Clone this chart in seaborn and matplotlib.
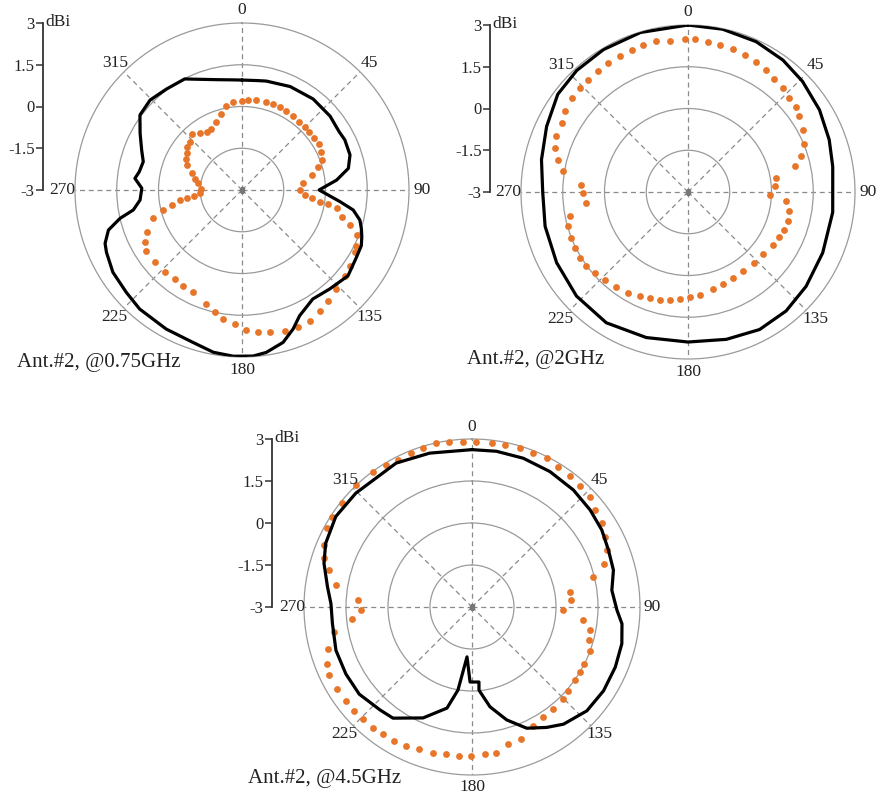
import numpy as np
import matplotlib
matplotlib.use("Agg")
import matplotlib.pyplot as plt
import seaborn as sns

# Ant.#2 radiation patterns, gain in dBi vs azimuth in degrees
# black = solid trace, orange = dotted trace

# 0.75 GHz
ang1_k = [0, 8, 12.6, 25, 38, 50, 59, 64, 72, 78.5, 84, 90, 92.3, 96.8, 100.2, 104.3, 108, 111.3, 115, 120.5,
          129, 138.5, 147, 155.4, 159.8, 164.9, 171.5, 176.2, 183, 190, 198, 208.6, 220.7, 228.5, 237.5, 245.3,
          248.7, 253.3, 256.9, 259.6, 264.4, 271, 276.2, 280, 286, 291.7, 299.1, 306.3, 314.4, 323.2, 332.7,
          339, 346.9, 355.3]
gain1_k = [0.95, 0.97, 1.01, 1.10, 1.15, 1.13, 1.07, 1.11, 1.08, 0.90, 0.42, -0.23, -0.01, 0.55, 1.06, 1.37,
           1.51, 1.62, 1.73, 1.77, 1.90, 1.75, 1.67, 1.97, 2.32, 2.67, 2.90, 2.98, 2.98, 2.92, 2.75, 2.69, 2.64,
           2.55, 2.50, 2.36, 2.28, 2.01, 1.50, 0.97, 0.68, 0.60, 0.87, 0.75, 0.69, 0.88, 1.19, 1.55, 1.62, 1.53,
           1.49, 1.26, 1.07, 0.97]
ang1_o = [0, 4, 9, 15, 20, 24.5, 29, 34.5, 40, 45, 49, 54, 59, 64.3, 69.4, 73, 77.9, 83.8, 90, 94.5, 96.8,
          98.5, 99.5, 100.9, 105, 108, 111.4, 116, 118.9, 125.1, 129.8, 136.4, 142.2, 147.2, 152.6, 157.8, 163.1,
          169, 173.6, 178.2, 183.1, 188.4, 192.6, 197.4, 205.6, 211.7, 217.1, 223.2, 230.4, 237.6, 241.9, 246.4,
          252.3, 255.7, 258, 260.8, 261.5, 263.5, 265.5, 272, 278.7, 283, 288.4, 294.6, 299, 303.6, 308, 312.9,
          318.3, 323.5, 328.8, 333.3, 339.2, 344.8, 349.5, 354]
gain1_o = [0.21, 0.25, 0.28, 0.29, 0.28, 0.26, 0.25, 0.24, 0.21, 0.18, 0.17, 0.18, 0.22, 0.15, 0.06, -0.13,
           -0.44, -0.78, -0.92, -0.73, -0.48, -0.17, 0.14, 0.47, 0.71, 1.08, 1.43, 1.55, 1.63, 1.73, 1.80, 1.91,
           2.04, 2.16, 2.29, 2.33, 2.28, 2.19, 2.12, 2.03, 1.82, 1.68, 1.50, 1.29, 1.08, 1.04, 1.01, 1.06, 1.07,
           1.07, 0.95, 0.74, 0.35, -0.08, -0.42, -0.74, -0.99, -1.25, -1.49, -1.52, -1.41, -1.25, -1.10, -0.84,
           -0.71, -0.61, -0.50, -0.45, -0.30, -0.46, -0.55, -0.55, -0.40, -0.17, 0.08, 0.19]

# 2 GHz
ang2_k = [0, 12, 24.4, 35.7, 46, 58, 69.7, 80, 90, 98, 114.3, 128.6, 140.5, 152.5, 165.4, 180, 196, 212, 227,
          241.7, 256.5, 270, 282.4, 294.9, 306.9, 317.5, 329.3, 343.4]
gain2_k = [3.0, 2.98, 2.93, 2.84, 2.72, 2.57, 2.41, 2.28, 2.20, 2.25, 2.31, 2.43, 2.54, 2.57, 2.47, 2.39, 2.44,
           2.54, 2.48, 2.36, 2.28, 2.22, 2.39, 2.60, 2.85, 2.92, 2.95, 2.98]
ang2_o = [2.5, 7.6, 12.1, 17.5, 22.4, 27.6, 32.6, 37.5, 42.4, 47.2, 51.9, 55.7, 61.8, 67.6, 72.5, 76.6, 81, 85.8,
          91.9, 95.4, 100.8, 106.3, 111.3, 116.1, 121.8, 129.9, 136.8, 145.3, 152.4, 159.3, 165.6, 173.5, 179.1,
          184.5, 189.7, 194.7, 199.8, 204.9, 210.7, 217, 223.5, 229, 233.8, 238.6, 243.7, 248.5, 254, 258.4,
          263.8, 269.5, 273.9, 279.4, 284, 288.3, 292.9, 298.6, 303.2, 308.9, 313.8, 318.3, 323.3, 328.2, 333.3,
          338.3, 343, 348.2, 353.1, 358.8]
gain2_o = [2.49, 2.45, 2.40, 2.37, 2.33, 2.29, 2.21, 2.10, 2.05, 1.97, 1.94, 1.82, 1.68, 1.52, 1.26, 0.97, 0.21,
           0.12, -0.07, 0.54, 0.71, 0.74, 0.72, 0.66, 0.59, 0.50, 0.49, 0.46, 0.48, 0.55, 0.61, 0.71, 0.77, 0.84,
           0.92, 1.02, 1.06, 1.12, 1.21, 1.27, 1.34, 1.43, 1.52, 1.55, 1.53, 1.50, 1.48, 1.34, 0.67, 0.77, 0.84,
           1.55, 1.81, 2.03, 2.13, 2.17, 2.29, 2.37, 2.38, 2.39, 2.40, 2.44, 2.45, 2.49, 2.52, 2.54, 2.47, 2.49]

# 4.5 GHz
ang3_k = [0, 8.9, 19, 29.9, 40.9, 50.6, 59.3, 67.4, 75.4, 83.2, 91.3, 96.4, 103.8, 112.8, 122.5, 132.1, 142,
          148.2, 155.7, 162.9, 169.8, 175.2, 174.7, 181.5, 185.7, 189.6, 193.9, 203.8, 215.4, 221.8, 232.3, 242,
          252.3, 263.2, 271.4, 277.9, 286.4, 293.5, 303.6, 314.4, 332.2, 344.6]
gain3_k = [2.62, 2.63, 2.62, 2.58, 2.53, 2.46, 2.39, 2.28, 2.22, 2.03, 2.18, 2.39, 2.51, 2.55, 2.57, 2.53, 2.31,
           2.06, 1.75, 1.22, 0.62, -0.02, -0.31, -0.32, -1.21, 0.01, 0.72, 1.33, 1.87, 1.93, 2.09, 2.10, 2.10,
           2.02, 2.04, 2.21, 2.51, 2.70, 2.84, 2.81, 2.81, 2.70]
ang3_o = [347.7, 352.2, 356.9, 1.5, 6.8, 11.4, 16.8, 21.7, 26.6, 31.6, 36.9, 41.7, 47.1, 51.8, 57.2, 62.2, 67.1,
          72, 76.1, 81.3, 86.1, 91.7, 96.8, 101.3, 105.9, 110.2, 117, 121.1, 125.5, 131, 135.2, 141.5, 147.2,
          152.7, 159.5, 165.2, 170.5, 175.1, 180.3, 184.8, 189.9, 195, 200.3, 205.4, 210.1, 215.1, 219.5, 224.3,
          228.6, 233.4, 238.6, 244.4, 248.5, 253.9, 259.7, 264.4, 268.6, 273.3, 279.1, 284.4, 288.2, 292.7,
          298.5, 302.9, 308.7, 316.4, 323.7, 328.8, 333.2, 338.4, 342.8]
gain3_o = [2.99, 2.93, 2.90, 2.89, 2.90, 2.91, 2.93, 2.92, 2.95, 2.89, 2.83, 2.80, 2.76, 2.60, 2.52, 2.38, 2.23,
           1.94, 1.47, 0.54, 0.53, 0.26, 1.01, 1.28, 1.36, 1.50, 1.47, 1.51, 1.52, 1.56, 1.63, 1.66, 1.69, 1.77,
           2.04, 2.07, 2.27, 2.28, 2.32, 2.34, 2.34, 2.38, 2.42, 2.49, 2.53, 2.55, 2.58, 2.59, 2.61, 2.61, 2.63,
           2.66, 2.55, 2.37, 2.01, 1.29, 0.97, 1.09, 1.93, 2.27, 2.56, 2.73, 2.88, 2.94, 2.93, 3.02, 3.00, 2.94,
           2.89, 2.91, 2.94]

angle_ticks = [0, 45, 90, 135, 180, 225, 270, 315]
scale_ticks = [-3, -1.5, 0, 1.5, 3]
scale_labels = ["-3", "-1.5", "0", "1.5", "3"]

W, H = 882, 796
ORANGE = "#e8762a"

sns.set_style("white")
plt.rcParams["font.family"] = ["Liberation Serif", "DejaVu Serif"]
plt.rcParams["text.color"] = "#222222"

fig = plt.figure(figsize=(W / 100, H / 100), dpi=100)


def panel(cx, cy, R, bar_x, ang_k, gain_k, ang_o, gain_o, title, tx, ty):
    ax = fig.add_axes([(cx - R) / W, (H - cy - R) / H, 2 * R / W, 2 * R / H], projection="polar")
    ax.set_theta_zero_location("N")
    ax.set_theta_direction(-1)

    th = np.deg2rad(np.append(ang_k, ang_k[0] + 360))
    gk = np.append(gain_k, gain_k[0])
    sns.lineplot(x=th, y=gk, sort=False, estimator=None, color="black", linewidth=2.3, ax=ax, zorder=4)
    sns.scatterplot(x=np.deg2rad(ang_o), y=gain_o, color=ORANGE, marker="o", s=24, linewidth=0,
                    ax=ax, clip_on=False, zorder=3)
    ax.scatter([0], [-3], marker="s", s=12, color="#777777", zorder=5)

    ax.set_ylim(-3, 3)
    ax.set_rgrids([-1.5, 0, 1.5], labels=[])
    ax.set_thetagrids(angle_ticks, labels=[""] * len(angle_ticks))
    ax.xaxis.grid(True, color="#8a8a8a", ls=(0, (4, 3)), lw=0.9)
    ax.yaxis.grid(True, color="#9a9a9a", ls="-", lw=0.9)
    ax.spines["polar"].set_color("#9a9a9a")
    ax.spines["polar"].set_linewidth(0.9)
    ax.set_xlabel("")
    ax.set_ylabel("")
    # azimuth labels sit a little outside the rim, centred on their direction
    r_lab = -3 + 6 * 180 / R
    for a in angle_ticks:
        ax.text(np.deg2rad(a), r_lab, str(a), fontsize=12.5, ha="center", va="center",
                clip_on=False, color="#222222")

    # dBi scale bar to the left of the pattern
    bx = fig.add_axes([bar_x / W, (H - cy) / H, 0.0001, R / H])
    bx.set_ylim(-3, 3)
    bx.set_xticks([])
    bx.set_yticks(scale_ticks)
    bx.set_yticklabels(scale_labels, fontsize=12, color="#222222")
    bx.tick_params(axis="y", direction="out", length=5, width=1.1, pad=1, color="#333333", left=True)
    for s in ["top", "right", "bottom"]:
        bx.spines[s].set_visible(False)
    bx.spines["left"].set_color("#333333")
    bx.spines["left"].set_linewidth(1.3)
    bx.patch.set_visible(False)
    fig.text((bar_x + 2) / W, 1 - (cy - R - 1) / H, "dBi", fontsize=12.5, ha="left", va="center")

    fig.text(tx / W, 1 - ty / H, title, fontsize=15, ha="left", va="center")


panel(242, 190, 167, 43, ang1_k, gain1_k, ang1_o, gain1_o, "Ant.#2, @0.75GHz", 17, 362)
panel(688, 192, 167, 490, ang2_k, gain2_k, ang2_o, gain2_o, "Ant.#2, @2GHz", 467, 360)
panel(472, 607, 168, 272, ang3_k, gain3_k, ang3_o, gain3_o, "Ant.#2, @4.5GHz", 248, 778)

fig.savefig("out.png", dpi=100)
